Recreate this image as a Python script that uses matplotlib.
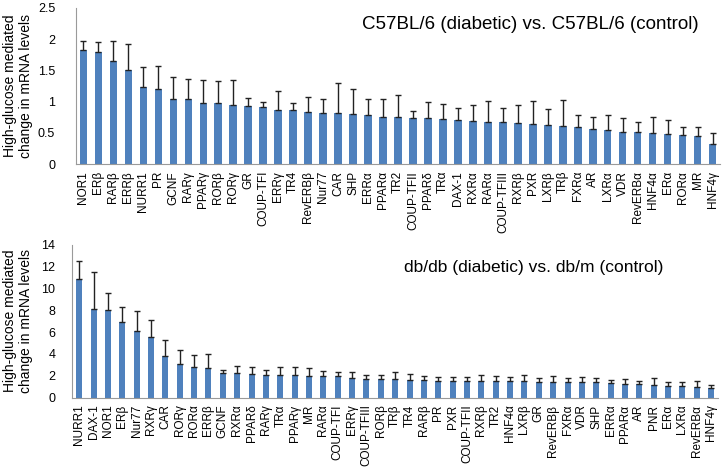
import matplotlib
matplotlib.use('agg')
import matplotlib.pyplot as plt
from matplotlib.ticker import FuncFormatter

plt.rcParams['font.family'] = ['Liberation Sans', 'DejaVu Sans']

# C57BL/6 (diabetic) vs. C57BL/6 (control)
top_labels = ['NOR1', 'ERβ', 'RARβ', 'ERRβ', 'NURR1', 'PR', 'GCNF', 'RARγ', 'PPARγ',
              'RORβ', 'RORγ', 'GR', 'COUP-TFI', 'ERRγ', 'TR4', 'RevERBβ', 'Nur77', 'CAR',
              'SHP', 'ERRα', 'PPARα', 'TR2', 'COUP-TFII', 'PPARδ', 'TRα', 'DAX-1', 'RXRα',
              'RARα', 'COUP-TFIII', 'RXRβ', 'PXR', 'LXRβ', 'TRβ', 'FXRα', 'AR', 'LXRα',
              'VDR', 'RevERBα', 'HNF4α', 'ERα', 'RORα', 'MR', 'HNF4γ']
top_values = [1.83, 1.80, 1.65, 1.50, 1.23, 1.20, 1.04, 1.04, 0.97, 0.97, 0.94, 0.93,
              0.91, 0.86, 0.86, 0.84, 0.82, 0.82, 0.80, 0.78, 0.75, 0.75, 0.74, 0.73,
              0.72, 0.70, 0.69, 0.68, 0.67, 0.65, 0.64, 0.62, 0.61, 0.59, 0.56, 0.55,
              0.52, 0.51, 0.50, 0.48, 0.47, 0.45, 0.32]
top_upper = [1.975, 1.95, 1.975, 1.92, 1.56, 1.57, 1.40, 1.37, 1.34, 1.33, 1.35, 1.06,
             1.00, 1.17, 0.97, 1.08, 1.04, 1.30, 1.21, 1.04, 1.04, 1.10, 0.85, 0.99,
             0.96, 0.89, 0.95, 1.01, 0.89, 0.94, 1.01, 0.88, 1.02, 0.79, 0.76, 0.79,
             0.73, 0.67, 0.75, 0.70, 0.59, 0.59, 0.49]

# db/db (diabetic) vs. db/m (control)
bot_labels = ['NURR1', 'DAX-1', 'NOR1', 'ERβ', 'Nur77', 'RXRγ', 'CAR', 'RORγ', 'RORα',
              'ERRβ', 'GCNF', 'RXRα', 'PPARδ', 'RARγ', 'TRα', 'PPARγ', 'MR', 'RARα',
              'COUP-TFI', 'ERRγ', 'COUP-TFIII', 'RORβ', 'TRβ', 'TR4', 'RARβ', 'PR', 'PXR',
              'COUP-TFII', 'RXRβ', 'TR2', 'HNF4α', 'LXRβ', 'GR', 'RevERBβ', 'FXRα', 'VDR',
              'SHP', 'ERRα', 'PPARα', 'AR', 'PNR', 'ERα', 'LXRα', 'RevERBα', 'HNF4γ']
bot_values = [10.88, 8.13, 8.07, 6.97, 6.08, 5.56, 3.82, 3.06, 2.78, 2.69, 2.23, 2.23,
              2.17, 2.05, 2.05, 2.05, 1.99, 1.99, 1.96, 1.80, 1.74, 1.68, 1.71, 1.65,
              1.62, 1.56, 1.56, 1.56, 1.56, 1.56, 1.53, 1.53, 1.47, 1.47, 1.41, 1.41,
              1.41, 1.38, 1.28, 1.25, 1.16, 1.07, 1.07, 1.01, 0.86]
bot_upper = [12.56, 11.49, 9.60, 8.35, 7.92, 7.09, 5.32, 4.40, 3.94, 3.97, 2.57, 2.87,
             2.78, 2.57, 2.84, 2.84, 2.69, 2.42, 2.38, 2.32, 2.11, 2.08, 2.32, 2.20,
             1.96, 1.86, 1.90, 1.90, 2.11, 1.96, 1.93, 2.08, 1.83, 1.99, 1.83, 1.93,
             1.83, 1.62, 1.71, 1.53, 1.77, 1.41, 1.47, 1.50, 1.13]

bar_color = '#4F81BD'
ylab = 'High-glucose mediated\nchange in mRNA levels'


def fmt(v, pos):
    return ('%g' % v)


def draw(ax, labels, values, upper, ymax, ystep, title, tx, ty, tsize, width, ypad, labx):
    x = list(range(len(labels)))
    err = [u - v for u, v in zip(upper, values)]
    ax.bar(x, values, width=width, color=bar_color, zorder=2)
    ax.errorbar(x, values, yerr=[[0] * len(x), err], fmt='none', ecolor='#222222',
                elinewidth=1, capsize=2.5, capthick=1, zorder=3)
    ax.set_xlim(-0.5, len(labels) - 0.5)
    ax.set_ylim(0, ymax)
    ax.set_yticks([i * ystep for i in range(int(round(ymax / ystep)) + 1)])
    ax.yaxis.set_major_formatter(FuncFormatter(fmt))
    ax.set_xticks(x)
    ax.set_xticklabels(labels, rotation=90, fontsize=8.5)
    ax.tick_params(axis='both', length=0)
    ax.tick_params(axis='x', pad=5)
    ax.tick_params(axis='y', labelsize=9, pad=ypad)
    for s in ['top', 'right']:
        ax.spines[s].set_visible(False)
    for s in ['left', 'bottom']:
        ax.spines[s].set_color('#9a9a9a')
        ax.spines[s].set_linewidth(0.8)
    ax.set_ylabel(ylab, fontsize=10, linespacing=1.2)
    ax.yaxis.set_label_coords(labx, 0.5)
    ax.text(tx, ty, title, transform=ax.transAxes, fontsize=tsize, ha='center', va='center')


fig = plt.figure(figsize=(7.23, 4.70), dpi=100)
ax1 = fig.add_axes([0.105, 0.651, 0.891, 0.332])
ax2 = fig.add_axes([0.0996, 0.154, 0.894, 0.325])

draw(ax1, top_labels, top_values, top_upper, 2.5, 0.5,
     'C57BL/6 (diabetic) vs. C57BL/6 (control)', 0.706, 0.891, 13.5, 0.5, 15, -0.067)
draw(ax2, bot_labels, bot_values, bot_upper, 14, 2,
     'db/db (diabetic) vs. db/m (control)', 0.715, 0.849, 12.5, 0.42, 12, -0.060)

plt.savefig('out.png', dpi=100)
